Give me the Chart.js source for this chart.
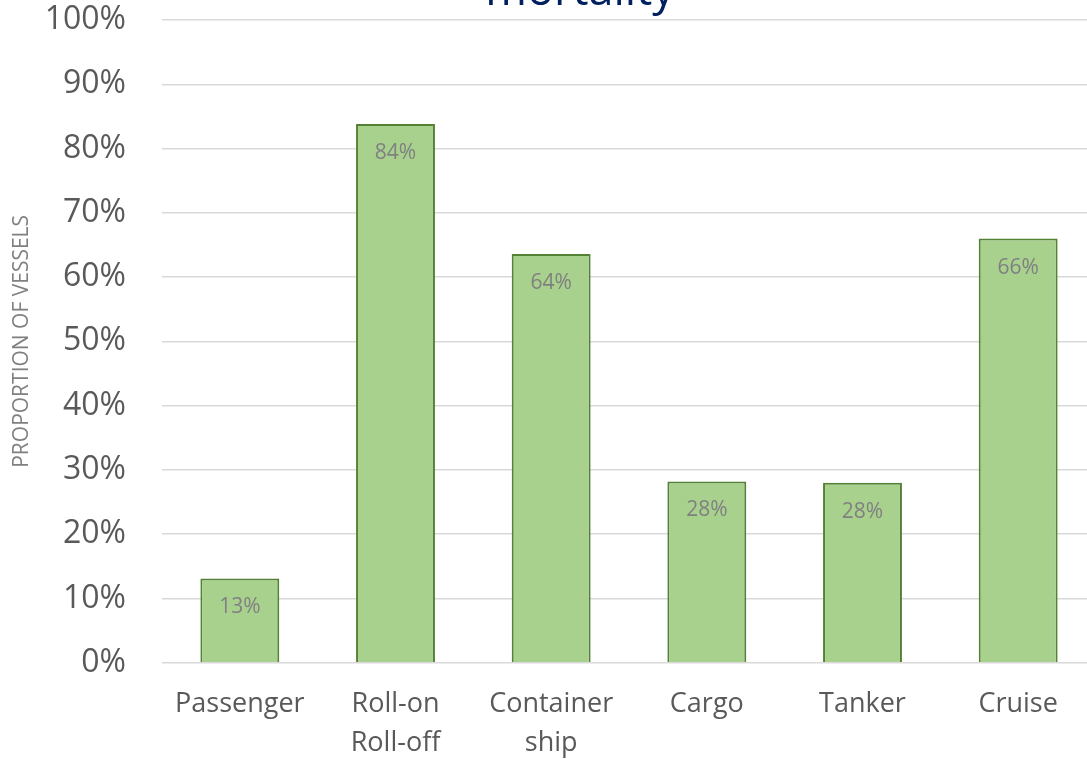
<!DOCTYPE html>
<html>
<head>
<meta charset="utf-8">
<script src="https://cdn.jsdelivr.net/npm/chart.js@4/dist/chart.umd.min.js"></script>
<style>
  html, body { margin: 0; padding: 0; background: #fff; overflow: hidden; width: 1087px; height: 759px; }
  #wrap { position: absolute; left: 0; top: -50px; width: 1160px; height: 835px; }
</style>
</head>
<body>
<div id="wrap"><canvas id="vesselChart"></canvas></div>
<script>
// values (percent of vessels)
const categories = ['Passenger', ['Roll-on', 'Roll-off'], ['Container', 'ship'], 'Cargo', 'Tanker', 'Cruise'];
const proportions = [13.1, 83.8, 63.6, 28.2, 28.0, 66.0];
const yTicks = [0, 10, 20, 30, 40, 50, 60, 70, 80, 90, 100];
const chartTitle = 'mortality';

const FONT = 'Open Sans';

// in-bar value labels (no datalabels plugin available)
const barLabels = {
    id: 'barLabels',
    afterDatasetsDraw(chart) {
        const ctx = chart.ctx;
        const meta = chart.getDatasetMeta(0);
        ctx.save();
        ctx.font = '21px "' + FONT + '"';
        ctx.fillStyle = '#808080';
        ctx.textAlign = 'center';
        ctx.textBaseline = 'middle';
        meta.data.forEach(function (bar, i) {
            ctx.fillText(Math.round(proportions[i]) + '%', bar.x, bar.y + 29);
        });
        ctx.restore();
    }
};

// title is cut off at the top of the picture, only its last line shows
const croppedTitle = {
    id: 'croppedTitle',
    afterDraw(chart) {
        const ctx = chart.ctx;
        ctx.save();
        ctx.font = '45px "' + FONT + '"';
        ctx.fillStyle = '#002060';
        ctx.textAlign = 'center';
        ctx.textBaseline = 'alphabetic';
        ctx.fillText(chartTitle, 580, 55);
        ctx.restore();
    }
};

const config = {
    type: 'bar',
    data: {
        labels: categories,
        datasets: [{
            label: 'Proportion of vessels',
            data: proportions,
            backgroundColor: '#A9D18E',
            borderColor: '#548235',
            borderWidth: 2,
            categoryPercentage: 1,
            barPercentage: 0.507
        }]
    },
    options: {
        responsive: true,
        maintainAspectRatio: false,
        animation: false,
        layout: { padding: { left: 0, right: 64, top: 70, bottom: 0 } },
        plugins: {
            legend: { display: false },
            tooltip: { enabled: false },
            title: { display: false }
        },
        scales: {
            x: {
                grid: { display: false, drawTicks: false },
                border: { display: false },
                ticks: {
                    color: '#595959',
                    font: { family: FONT, size: 27, lineHeight: 1.45 },
                    padding: 22,
                    maxRotation: 0,
                    autoSkip: false
                }
            },
            y: {
                min: 0,
                max: 100,
                afterBuildTicks(scale) {
                    scale.ticks = yTicks.map(v => ({ value: v }));
                },
                afterFit(scale) { scale.width = 162; },
                grid: { color: '#d9d9d9', lineWidth: 1.5, drawTicks: false },
                border: { display: false },
                ticks: {
                    color: '#595959',
                    font: { family: FONT, size: 32 },
                    padding: 36,
                    callback: v => v + '%'
                },
                title: {
                    display: true,
                    text: 'PROPORTION OF VESSELS',
                    color: '#808080',
                    font: { family: FONT, size: 21 },
                    padding: { top: 9, bottom: 0 }
                }
            }
        }
    },
    plugins: [barLabels, croppedTitle]
};

new Chart(document.getElementById('vesselChart'), config);
</script>
</body>
</html>
